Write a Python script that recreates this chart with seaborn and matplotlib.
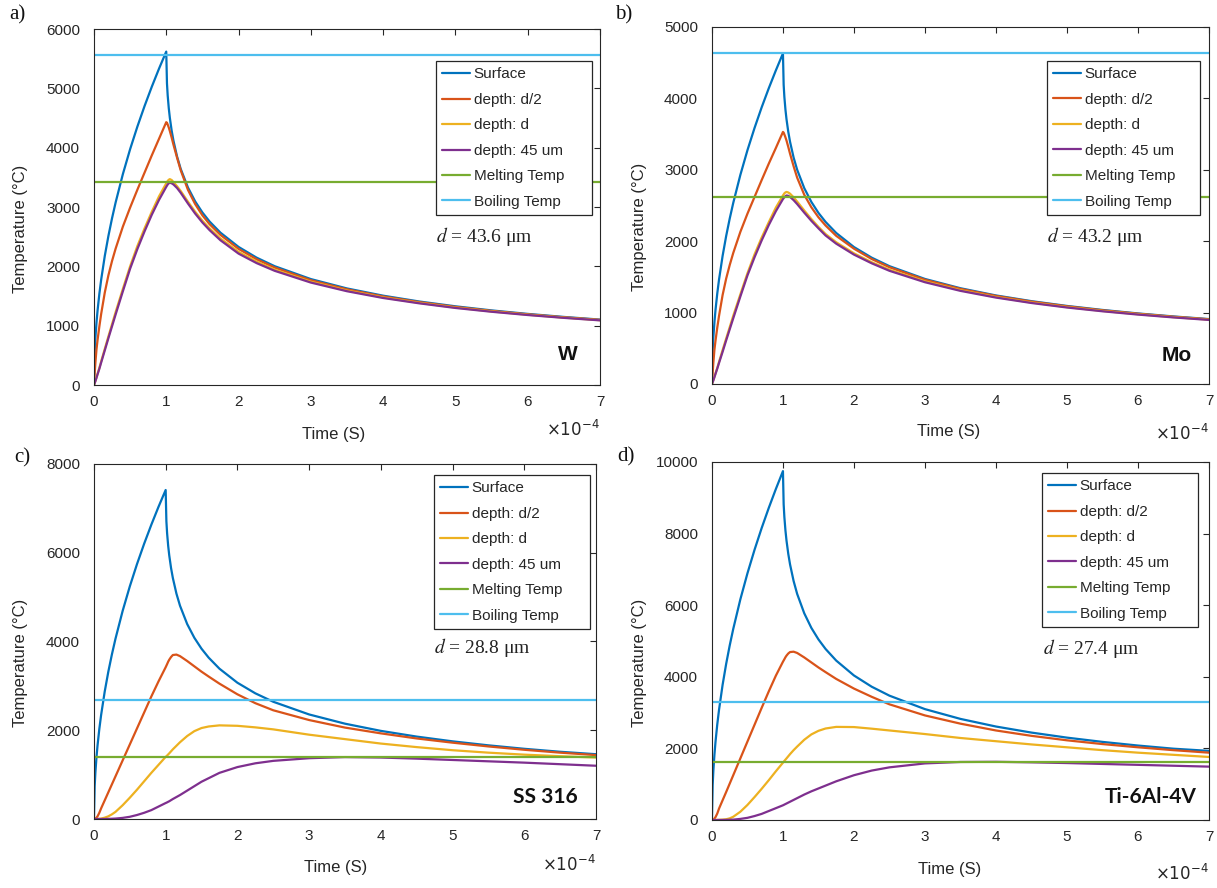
import numpy as np
import pandas as pd
import matplotlib
matplotlib.use("Agg")
import matplotlib.pyplot as plt
import seaborn as sns

# ── Data (time in units of 1e-4 s, temperature in °C) ───────────────────────
TIME_E4 = [0, 0.01, 0.02, 0.035, 0.05, 0.075, 0.1, 0.15, 0.2, 0.25, 0.3, 0.4, 0.5,
           0.6, 0.7, 0.8, 0.9, 1.0,
           1.01, 1.02, 1.035, 1.05, 1.075, 1.1, 1.15, 1.2, 1.3, 1.4, 1.5, 1.6,
           1.75, 2.0, 2.25, 2.5, 3.0, 3.5, 4.0, 4.5, 5.0, 5.5, 6.0, 6.5, 7.0]

SERIES = ["Surface", "depth: d/2", "depth: d", "depth: 45 um",
          "Melting Temp", "Boiling Temp"]

# a) W
W_SURFACE = [0, 562, 795, 1052, 1257, 1539, 1777, 2177, 2513, 2810, 3078, 3555, 3974,
             4353, 4702, 5027, 5332, 5620,
             5086, 4881, 4666, 4502, 4287, 4117, 3850, 3643, 3330, 3095, 2909, 2755,
             2568, 2328, 2147, 2003, 1786, 1628, 1506, 1408, 1327, 1258, 1199, 1148, 1103]
W_HALF_D = [0, 200, 380, 600, 760, 990, 1200, 1560, 1850, 2090, 2300, 2670, 2990,
            3290, 3580, 3870, 4150, 4430,
            4420, 4390, 4340, 4280, 4170, 4050, 3830, 3620, 3290, 3050, 2860, 2710,
            2530, 2295, 2120, 1980, 1767, 1613, 1493, 1398, 1317, 1250, 1192, 1142, 1099]
W_D = [0, 35, 70, 130, 190, 290, 400, 610, 820, 1025, 1230, 1620, 2000,
       2340, 2640, 2920, 3180, 3400,
       3420, 3440, 3460, 3470, 3455, 3420, 3350, 3270, 3090, 2920, 2770, 2640,
       2470, 2245, 2080, 1945, 1742, 1593, 1477, 1385, 1306, 1241, 1185, 1136, 1093]
W_45UM = [0, 32, 65, 120, 180, 275, 380, 585, 790, 990, 1190, 1580, 1960,
          2290, 2590, 2870, 3120, 3340,
          3360, 3380, 3400, 3410, 3400, 3380, 3320, 3240, 3060, 2890, 2740, 2610,
          2440, 2215, 2055, 1925, 1727, 1581, 1467, 1377, 1299, 1235, 1180, 1132, 1090]
W_MELT, W_BOIL = 3422, 5555

# b) Mo
MO_SURFACE = [0, 463, 655, 866, 1035, 1268, 1464, 1793, 2071, 2315, 2536, 2928, 3274,
              3586, 3874, 4141, 4392, 4630,
              4190, 4021, 3844, 3709, 3532, 3392, 3172, 3001, 2743, 2550, 2396, 2270,
              2115, 1918, 1769, 1650, 1471, 1341, 1240, 1160, 1093, 1037, 988, 946, 909]
MO_HALF_D = [0, 160, 300, 480, 605, 790, 955, 1245, 1475, 1665, 1835, 2130, 2385,
             2620, 2855, 3085, 3305, 3530,
             3520, 3495, 3455, 3410, 3320, 3225, 3050, 2890, 2650, 2475, 2335, 2220,
             2075, 1895, 1750, 1635, 1460, 1332, 1233, 1154, 1088, 1032, 984, 942, 906]
MO_D = [0, 27, 55, 100, 150, 225, 310, 475, 635, 795, 955, 1255, 1550,
        1815, 2050, 2265, 2470, 2640,
        2655, 2670, 2683, 2690, 2682, 2665, 2615, 2555, 2430, 2310, 2200, 2100,
        1985, 1830, 1705, 1600, 1438, 1314, 1218, 1141, 1077, 1023, 977, 936, 901]
MO_45UM = [0, 25, 50, 95, 140, 215, 295, 450, 610, 765, 920, 1225, 1520,
           1775, 2010, 2225, 2420, 2590,
           2603, 2615, 2630, 2640, 2635, 2620, 2575, 2520, 2400, 2285, 2180, 2080,
           1965, 1812, 1690, 1585, 1425, 1304, 1210, 1134, 1071, 1018, 972, 932, 897]
MO_MELT, MO_BOIL = 2623, 4639

# c) SS 316
SS_SURFACE = [0, 741, 1048, 1387, 1658, 2031, 2344, 2871, 3316, 3707, 4061, 4689, 5242,
              5743, 6203, 6631, 7034, 7414,
              6710, 6439, 6155, 5939, 5656, 5432, 5079, 4806, 4393, 4083, 3837, 3635,
              3387, 3071, 2832, 2642, 2356, 2148, 1986, 1857, 1750, 1660, 1582, 1515, 1460]
SS_HALF_D = [0, 0, 10, 30, 60, 140, 240, 420, 600, 780, 960, 1320, 1680,
             2040, 2400, 2760, 3100, 3420,
             3455, 3490, 3545, 3590, 3650, 3695, 3705, 3670, 3560, 3440, 3320, 3210,
             3050, 2810, 2610, 2450, 2230, 2060, 1930, 1815, 1720, 1635, 1560, 1495, 1440]
SS_D = [0, 0, 0, 0, 0, 5, 10, 30, 60, 105, 160, 310, 480,
        660, 850, 1040, 1220, 1400,
        1415, 1430, 1455, 1480, 1525, 1570, 1650, 1730, 1870, 1980, 2050, 2085,
        2110, 2100, 2065, 2020, 1900, 1800, 1700, 1620, 1550, 1495, 1450, 1415, 1385]
SS_45UM = [0, 0, 0, 0, 0, 0, 0, 1, 3, 6, 10, 25, 50,
           90, 140, 200, 280, 360,
           367, 375, 388, 400, 425, 450, 495, 540, 640, 740, 840, 920,
           1040, 1170, 1255, 1310, 1370, 1395, 1385, 1360, 1330, 1300, 1270, 1235, 1200]
SS_MELT, SS_BOIL = 1400, 2677

# d) Ti-6Al-4V
TI_SURFACE = [0, 974, 1378, 1823, 2179, 2669, 3081, 3773, 4357, 4872, 5336, 6162, 6889,
              7547, 8152, 8714, 9243, 9743,
              8817, 8462, 8089, 7805, 7433, 7138, 6675, 6315, 5773, 5365, 5043, 4777,
              4452, 4036, 3722, 3472, 3096, 2823, 2610, 2441, 2300, 2181, 2079, 1991, 1930]
TI_HALF_D = [0, 0, 10, 40, 80, 180, 320, 550, 780, 1015, 1250, 1720, 2190,
             2660, 3130, 3590, 4030, 4420,
             4455, 4490, 4545, 4590, 4650, 4690, 4700, 4665, 4540, 4400, 4260, 4130,
             3940, 3670, 3440, 3230, 2920, 2690, 2500, 2350, 2225, 2120, 2030, 1950, 1880]
TI_D = [0, 0, 0, 0, 0, 2, 5, 10, 20, 45, 90, 230, 420,
        640, 870, 1110, 1360, 1600,
        1625, 1650, 1685, 1720, 1780, 1840, 1950, 2050, 2240, 2390, 2490, 2555,
        2600, 2595, 2550, 2500, 2400, 2290, 2200, 2110, 2030, 1950, 1880, 1820, 1760]
TI_45UM = [0, 0, 0, 0, 0, 0, 0, 1, 3, 6, 10, 30, 60,
           110, 170, 250, 330, 410,
           420, 430, 445, 460, 485, 510, 560, 610, 710, 800, 880, 960,
           1080, 1250, 1380, 1470, 1580, 1620, 1625, 1610, 1590, 1565, 1540, 1515, 1490]
TI_MELT, TI_BOIL = 1630, 3287

MATERIALS = ["W", "Mo", "SS 316", "Ti-6Al-4V"]
D_VALUES = ["43.6", "43.2", "28.8", "27.4"]
CURVES = [
    (W_SURFACE, W_HALF_D, W_D, W_45UM, W_MELT, W_BOIL),
    (MO_SURFACE, MO_HALF_D, MO_D, MO_45UM, MO_MELT, MO_BOIL),
    (SS_SURFACE, SS_HALF_D, SS_D, SS_45UM, SS_MELT, SS_BOIL),
    (TI_SURFACE, TI_HALF_D, TI_D, TI_45UM, TI_MELT, TI_BOIL),
]
Y_MAX = [6000, 5000, 8000, 10000]
Y_STEP = [1000, 1000, 2000, 2000]

# ── Style ────────────────────────────────────────────────────────────────────
sns.set_theme(style="white")
plt.rcParams["font.family"] = ["Liberation Sans", "DejaVu Sans"]
INK = "#262626"
PALETTE = dict(zip(SERIES, ["#0072BD", "#D95319", "#EDB120", "#7E2F8E",
                            "#77AC30", "#4DBEEE"]))

# axes rects [l, b, w, h] in figure fraction
RECTS = [[0.0772, 0.5664, 0.4158, 0.4009],
         [0.5850, 0.5676, 0.4084, 0.4020],
         [0.0772, 0.0777, 0.4125, 0.3998],
         [0.5850, 0.0766, 0.4084, 0.4032]]
PANEL_LETTERS = [("a)", 0.008, 0.983), ("b)", 0.505, 0.983),
                 ("c)", 0.0115, 0.484), ("d)", 0.507, 0.485)]
LEGEND_BOX = [(0.676, 0.910, 0.308), (0.674, 0.905, 0.308),
              (0.677, 0.969, 0.311), (0.664, 0.969, 0.314)]
D_TEXT_POS = [(0.676, 0.416), (0.674, 0.412), (0.677, 0.482), (0.666, 0.480)]
MAT_POS = [(0.957, 0.087), (0.966, 0.081), (0.964, 0.062), (0.976, 0.064)]
XLAB_POS = [(0.474, -0.118), (0.477, -0.112), (0.482, -0.115), (0.479, -0.117)]
MULT_Y = [-0.124, -0.137, -0.127, -0.148]

fig = plt.figure(figsize=(12.17, 8.88), dpi=100)

for i in range(4):
    surf, half, dd, um45, melt, boil = CURVES[i]
    df = pd.concat([
        pd.DataFrame({"t": TIME_E4, "T": surf, "series": SERIES[0]}),
        pd.DataFrame({"t": TIME_E4, "T": half, "series": SERIES[1]}),
        pd.DataFrame({"t": TIME_E4, "T": dd, "series": SERIES[2]}),
        pd.DataFrame({"t": TIME_E4, "T": um45, "series": SERIES[3]}),
        pd.DataFrame({"t": [TIME_E4[0], TIME_E4[-1]], "T": [melt, melt], "series": SERIES[4]}),
        pd.DataFrame({"t": [TIME_E4[0], TIME_E4[-1]], "T": [boil, boil], "series": SERIES[5]}),
    ], ignore_index=True)

    ax = fig.add_axes(RECTS[i])
    sns.lineplot(data=df, x="t", y="T", hue="series", hue_order=SERIES,
                 palette=PALETTE, estimator=None, sort=False, linewidth=1.6, ax=ax)

    ax.set_xlim(0, 7)
    ax.set_ylim(0, Y_MAX[i])
    ax.set_xticks(range(0, 8))
    ax.set_yticks(range(0, Y_MAX[i] + 1, Y_STEP[i]))
    ax.tick_params(direction="in", length=4, width=0.8, top=True, right=True,
                   colors=INK, labelsize=11)
    ax.tick_params(axis="y", pad=10)
    ax.tick_params(axis="x", pad=7)
    for sp in ax.spines.values():
        sp.set_color(INK)
        sp.set_linewidth(0.8)

    ax.set_xlabel("Time (S)", fontsize=12, color=INK)
    ax.set_ylabel("Temperature (°C)", fontsize=12, color=INK)
    ax.xaxis.set_label_coords(*XLAB_POS[i])
    ax.yaxis.set_label_coords(-0.131, 0.44)
    ax.text(1.0, MULT_Y[i], r"$\times10^{-4}$", transform=ax.transAxes,
            ha="right", va="center", fontsize=12, color=INK)

    handles, labels = ax.get_legend_handles_labels()
    lx, ly, lw = LEGEND_BOX[i]
    leg = ax.legend(handles, labels, loc="upper left", bbox_to_anchor=(lx, ly, lw, 0),
                    mode="expand", borderaxespad=0, fontsize=11, frameon=True,
                    fancybox=False, edgecolor=INK, framealpha=1,
                    handlelength=1.8, handletextpad=0.25, labelspacing=0.75,
                    borderpad=0.42)
    leg.get_frame().set_linewidth(0.9)
    for t in leg.get_texts():
        t.set_color(INK)

    dx, dy = D_TEXT_POS[i]
    ax.text(dx, dy, rf"$d$ = {D_VALUES[i]} μm", transform=ax.transAxes,
            ha="left", va="center", fontsize=14, family="Liberation Serif",
            math_fontfamily="stix", color="#222222")

    mx, my = MAT_POS[i]
    mat_font = "Liberation Sans" if i < 2 else "Lato"
    ax.text(mx, my, MATERIALS[i], transform=ax.transAxes, ha="right", va="center",
            fontsize=15, fontweight="bold", family=mat_font, color="#111111")

for txt, x, y in PANEL_LETTERS:
    fig.text(x, y, txt, ha="left", va="center", fontsize=15,
             family="Liberation Serif", color="#111111")

fig.savefig("out.png", dpi=100)
